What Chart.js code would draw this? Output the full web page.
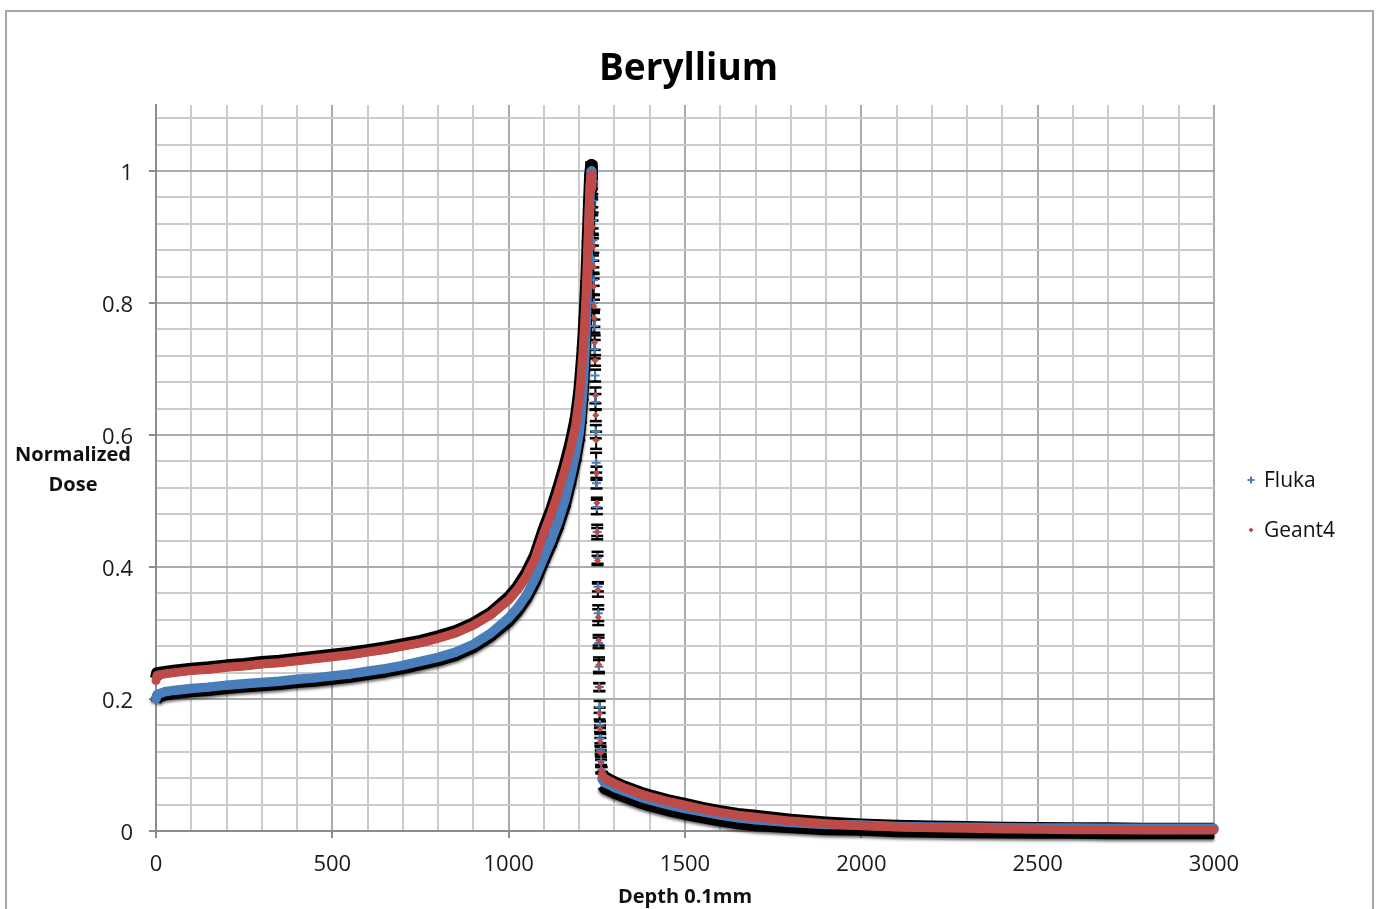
<!DOCTYPE html>
<html>
<head>
<meta charset="utf-8">
<title>Beryllium</title>
<script src="https://cdn.jsdelivr.net/npm/chart.js@4.4.1/dist/chart.umd.min.js"></script>
<style>
  html, body { margin: 0; padding: 0; background: #ffffff; }
  #wrap { position: relative; width: 1381px; height: 909px; overflow: hidden; }
  #dose { position: absolute; left: 0; top: 0; }
  #frame { position: absolute; left: 5px; top: 10px; width: 1365px; height: 930px;
           border: 2px solid #a6a6a6; pointer-events: none; }
</style>
</head>
<body>
<div id="wrap">
  <canvas id="dose" width="1381" height="909"></canvas>
  <div id="frame"></div>
</div>
<script>
// Depth in units of 0.1 mm: entrance plateau, Bragg peak, distal fall-off, tail.
const depth = [
  0, 3, 25, 50, 100, 150, 200, 250, 300, 350, 400, 450, 500, 550, 600, 650, 700, 750, 800, 850, 900, 950,
  1000, 1025, 1050, 1075, 1100, 1120, 1140, 1160, 1175, 1190, 1200, 1205, 1210, 1215, 1220, 1224, 1228, 1231, 1234,
  1236, 1237, 1238, 1239, 1240, 1241, 1242, 1243, 1244, 1245, 1246, 1247, 1248, 1249,
  1250, 1251, 1252, 1253, 1254, 1255, 1256, 1257, 1258, 1259, 1260, 1261, 1262, 1263,
  1265, 1272, 1285, 1300, 1325, 1350, 1375, 1400, 1450, 1500, 1550, 1600, 1650, 1700,
  1800, 1900, 2000, 2100, 2200, 2300, 2400, 2500, 2600, 2700, 2800, 2900, 3000
];

// Normalized dose, FLUKA simulation
const fluka = [
  0.200, 0.207, 0.211, 0.213, 0.216, 0.218, 0.221, 0.223, 0.225, 0.227, 0.230, 0.232, 0.235, 0.238, 0.242, 0.246, 0.251, 0.257, 0.263, 0.271, 0.283, 0.300,
  0.323, 0.338, 0.357, 0.383, 0.415, 0.440, 0.468, 0.502, 0.535, 0.572, 0.603, 0.630, 0.665, 0.710, 0.770, 0.840, 0.920, 0.970, 1.000,
  0.985, 0.955, 0.925, 0.895, 0.865, 0.835, 0.800, 0.765, 0.730, 0.690, 0.650, 0.605, 0.558, 0.527,
  0.491, 0.453, 0.414, 0.370, 0.330, 0.285, 0.249, 0.218, 0.188, 0.161, 0.140, 0.122, 0.106, 0.092,
  0.078, 0.073, 0.070, 0.066, 0.061, 0.056, 0.051, 0.047, 0.040, 0.034, 0.029, 0.024, 0.020, 0.017,
  0.013, 0.010, 0.009, 0.007, 0.006, 0.0055, 0.005, 0.0045, 0.0045, 0.004, 0.004, 0.004, 0.004
];

// Normalized dose, Geant4 simulation
const geant4 = [
  0.228, 0.236, 0.238, 0.240, 0.243, 0.245, 0.248, 0.250, 0.253, 0.255, 0.258, 0.261, 0.264, 0.267, 0.271, 0.275, 0.280, 0.285, 0.292, 0.300, 0.312, 0.328,
  0.350, 0.366, 0.386, 0.413, 0.452, 0.480, 0.512, 0.548, 0.578, 0.615, 0.655, 0.685, 0.720, 0.765, 0.820, 0.880, 0.940, 0.980, 0.995,
  0.975, 0.945, 0.915, 0.885, 0.855, 0.825, 0.795, 0.777, 0.740, 0.713, 0.660, 0.630, 0.592, 0.542,
  0.497, 0.453, 0.410, 0.365, 0.324, 0.289, 0.252, 0.218, 0.178, 0.155, 0.135, 0.118, 0.103, 0.093,
  0.085, 0.080, 0.076, 0.072, 0.066, 0.061, 0.056, 0.052, 0.045, 0.039, 0.033, 0.028, 0.024, 0.021,
  0.015, 0.011, 0.008, 0.006, 0.005, 0.004, 0.003, 0.0025, 0.002, 0.002, 0.0015, 0.0015, 0.0015
];

// Statistical uncertainty of each point (FLUKA shown below the curve, Geant4 above)
const flukaErr = [
  0.005, 0.005, 0.005, 0.005, 0.005, 0.005, 0.005, 0.005, 0.005, 0.005, 0.005, 0.005, 0.005, 0.005, 0.005, 0.005, 0.005, 0.005, 0.005, 0.005, 0.005, 0.005,
  0.006, 0.006, 0.006, 0.007, 0.007, 0.008, 0.009, 0.010, 0.010, 0.011, 0.011, 0.011, 0.012, 0.012, 0.012, 0.013, 0.013, 0.013, 0.013,
  0.012, 0.010, 0.012, 0.008, 0.011, 0.009, 0.012, 0.010, 0.014, 0.009, 0.012, 0.010, 0.015, 0.008,
  0.011, 0.006, 0.009, 0.007, 0.012, 0.008, 0.010, 0.006, 0.009, 0.005, 0.007, 0.005, 0.006, 0.005,
  0.009, 0.009, 0.009, 0.009, 0.009, 0.009, 0.009, 0.009, 0.009, 0.009, 0.009, 0.009, 0.009, 0.009,
  0.008, 0.008, 0.008, 0.008, 0.008, 0.008, 0.008, 0.008, 0.008, 0.008, 0.008, 0.008, 0.008
];
const geant4Err = [
  0.003, 0.003, 0.003, 0.003, 0.003, 0.003, 0.003, 0.003, 0.003, 0.003, 0.003, 0.003, 0.003, 0.003, 0.003, 0.003, 0.003, 0.003, 0.003, 0.003, 0.003, 0.003,
  0.004, 0.004, 0.005, 0.005, 0.006, 0.006, 0.007, 0.008, 0.009, 0.010, 0.011, 0.012, 0.012, 0.013, 0.013, 0.013, 0.014, 0.014, 0.014,
  0.014, 0.012, 0.010, 0.013, 0.009, 0.012, 0.010, 0.013, 0.011, 0.008, 0.012, 0.009, 0.013, 0.010,
  0.008, 0.011, 0.007, 0.010, 0.012, 0.008, 0.011, 0.006, 0.009, 0.005, 0.006, 0.004, 0.005, 0.004,
  0.002, 0.002, 0.002, 0.002, 0.002, 0.002, 0.002, 0.002, 0.002, 0.002, 0.002, 0.002, 0.002, 0.002,
  0.002, 0.002, 0.002, 0.002, 0.002, 0.002, 0.002, 0.002, 0.002, 0.002, 0.002, 0.002, 0.002
];

const xTickLabels = [0, 500, 1000, 1500, 2000, 2500, 3000];
const yTickLabels = [0, 0.2, 0.4, 0.6, 0.8, 1];

// Depth range of the distal fall-off: drawn as separate markers, not as a band
const FALL_START = 1236;
const FALL_END = 1265;
// Individual error bars are drawn from here to the end of the fall-off
const BARS_FROM = 1100;

const BLUE = '#4a7ebb';
const RED = '#be4b48';
const INK = '#000000';
const GRID_MINOR = '#cbcbcb';
const GRID_MAJOR = '#ababab';
const AXIS = '#8c8c8c';
const FONT = '"Open Sans", "Liberation Sans", sans-serif';

Chart.defaults.font.family = FONT;
Chart.defaults.color = '#1a1a1a';

const points = vals => depth.map((x, i) => ({ x, y: vals[i] }));
const shifted = (vals, errs, sign) => depth.map((x, i) => ({ x, y: vals[i] + sign * errs[i] }));
const inFalloff = ctx => depth[ctx.p0DataIndex] >= FALL_START && depth[ctx.p1DataIndex] <= FALL_END;
const bandColor = color => ctx => inFalloff(ctx) ? 'rgba(0,0,0,0)' : color;

function errorBars(vals, errs) {
  const out = [];
  depth.forEach((x, i) => {
    if (x < BARS_FROM || x >= FALL_END) return;
    out.push({ x, y: vals[i] - errs[i] }, { x, y: vals[i] + errs[i] }, { x, y: null });
  });
  return out;
}

const isLabelled = (list, v) => list.some(t => Math.abs(t - v) < 1e-6);

// Chart title, horizontal y-axis title and the series key
const sideText = {
  id: 'sideText',
  afterDraw(chart) {
    const { ctx, chartArea: a, width } = chart;
    ctx.save();
    ctx.fillStyle = '#000000';
    ctx.textAlign = 'center';
    ctx.textBaseline = 'middle';
    ctx.font = 'bold 37px ' + FONT;
    ctx.fillText('Beryllium', width / 2 - 2, a.top - 36);

    ctx.fillStyle = '#111111';
    ctx.font = 'bold 20px ' + FONT;
    ctx.fillText('Normalized', a.left - 83, a.bottom - 376);
    ctx.fillText('Dose', a.left - 83, a.bottom - 346);

    const keyX = a.right + 37;
    const keyY = a.top + 375;
    ctx.textAlign = 'left';
    ctx.font = '21px ' + FONT;
    // Fluka: plus sign
    ctx.strokeStyle = BLUE;
    ctx.lineWidth = 2;
    ctx.beginPath();
    ctx.moveTo(keyX - 3.5, keyY); ctx.lineTo(keyX + 3.5, keyY);
    ctx.moveTo(keyX, keyY - 3.5); ctx.lineTo(keyX, keyY + 3.5);
    ctx.stroke();
    ctx.fillText('Fluka', keyX + 13, keyY + 1);
    // Geant4: small diamond
    const gy = keyY + 50;
    ctx.fillStyle = RED;
    ctx.beginPath();
    ctx.moveTo(keyX, gy - 2.5); ctx.lineTo(keyX + 2.5, gy); ctx.lineTo(keyX, gy + 2.5); ctx.lineTo(keyX - 2.5, gy);
    ctx.closePath();
    ctx.fill();
    ctx.fillStyle = '#111111';
    ctx.fillText('Geant4', keyX + 13, gy + 1);
    ctx.restore();
  }
};

// Soft drop shadow under the lower uncertainty band
const softShadow = {
  id: 'softShadow',
  beforeDatasetDraw(chart, args) {
    if (chart.data.datasets[args.index].label === 'Fluka uncertainty') {
      const ctx = chart.ctx;
      ctx.save();
      ctx.shadowColor = 'rgba(0,0,0,0.6)';
      ctx.shadowBlur = 3;
      ctx.shadowOffsetY = 2;
      args.shadowed = true;
    }
  },
  afterDatasetDraw(chart, args) {
    if (args.shadowed) chart.ctx.restore();
  }
};

new Chart(document.getElementById('dose'), {
  type: 'scatter',
  data: {
    datasets: [
      {
        label: 'Geant4',
        data: points(geant4),
        showLine: true,
        clip: false,
        borderColor: RED,
        borderWidth: 9,
        borderCapStyle: 'round',
        borderJoinStyle: 'round',
        segment: { borderColor: bandColor(RED) },
        pointStyle: 'rectRot',
        pointRadius: 3,
        pointBackgroundColor: RED,
        pointBorderColor: RED,
        pointBorderWidth: 1,
        order: 0
      },
      {
        label: 'Fluka',
        data: points(fluka),
        showLine: true,
        clip: false,
        borderColor: BLUE,
        borderWidth: 9.5,
        borderCapStyle: 'round',
        borderJoinStyle: 'round',
        segment: { borderColor: bandColor(BLUE) },
        pointStyle: 'cross',
        pointRadius: 4.5,
        pointBorderColor: BLUE,
        pointBorderWidth: 2,
        order: 1
      },
      {
        label: 'Geant4 uncertainty',
        data: shifted(geant4, geant4Err, 1),
        showLine: true,
        clip: false,
        borderColor: INK,
        borderWidth: 12,
        borderJoinStyle: 'round',
        segment: { borderColor: bandColor(INK) },
        pointRadius: 0,
        order: 2
      },
      {
        label: 'Fluka uncertainty',
        data: shifted(fluka, flukaErr, -1),
        showLine: true,
        clip: false,
        borderColor: INK,
        borderWidth: 11,
        borderJoinStyle: 'round',
        segment: { borderColor: bandColor(INK) },
        pointRadius: 0,
        order: 3
      },
      {
        label: 'Geant4 error bars',
        data: errorBars(geant4, geant4Err),
        showLine: true,
        spanGaps: false,
        borderColor: INK,
        borderWidth: 2,
        pointStyle: 'line',
        pointRadius: 6,
        pointBorderColor: INK,
        pointBorderWidth: 2.5,
        order: 4
      },
      {
        label: 'Fluka error bars',
        data: errorBars(fluka, flukaErr),
        showLine: true,
        spanGaps: false,
        borderColor: INK,
        borderWidth: 2,
        pointStyle: 'line',
        pointRadius: 6,
        pointBorderColor: INK,
        pointBorderWidth: 2.5,
        order: 5
      }
    ]
  },
  options: {
    responsive: false,
    animation: false,
    events: [],
    layout: { padding: { left: 0, right: 167, top: 105, bottom: 0 } },
    plugins: {
      legend: { display: false },
      tooltip: { enabled: false },
      title: { display: false }
    },
    scales: {
      x: {
        type: 'linear',
        min: 0,
        max: 3000,
        afterFit: s => { s.height = 78; },
        ticks: {
          stepSize: 100,
          autoSkip: false,
          maxRotation: 0,
          padding: 14,
          color: '#1a1a1a',
          font: { size: 22 },
          callback: v => isLabelled(xTickLabels, v) ? String(v) : ''
        },
        grid: {
          lineWidth: 2,
          color: c => (c.tick && isLabelled(xTickLabels, c.tick.value)) ? GRID_MAJOR : GRID_MINOR,
          tickLength: 7,
          tickWidth: 2,
          tickColor: c => (c.tick && isLabelled(xTickLabels, c.tick.value)) ? AXIS : 'rgba(0,0,0,0)'
        },
        border: { color: AXIS, width: 2 },
        title: {
          display: true,
          text: 'Depth 0.1mm',
          color: '#111111',
          font: { size: 20, weight: 'bold' },
          padding: { top: 0, bottom: 0 }
        }
      },
      y: {
        type: 'linear',
        min: 0,
        max: 1.1,
        afterFit: s => { s.width = 156; },
        ticks: {
          stepSize: 0.04,
          includeBounds: false,
          autoSkip: false,
          padding: 16,
          labelOffset: 3,
          color: '#1a1a1a',
          font: { size: 22 },
          callback: v => {
            const t = yTickLabels.find(k => Math.abs(k - v) < 1e-6);
            return t === undefined ? '' : String(t);
          }
        },
        grid: {
          lineWidth: 2,
          color: c => (c.tick && isLabelled(yTickLabels, c.tick.value)) ? GRID_MAJOR : GRID_MINOR,
          tickLength: 7,
          tickWidth: 2,
          tickColor: c => (c.tick && isLabelled(yTickLabels, c.tick.value)) ? AXIS : 'rgba(0,0,0,0)'
        },
        border: { color: AXIS, width: 2 }
      }
    }
  },
  plugins: [sideText, softShadow]
});
</script>
</body>
</html>
